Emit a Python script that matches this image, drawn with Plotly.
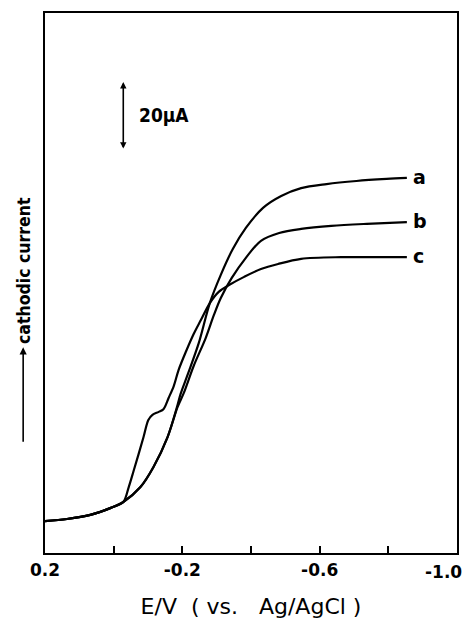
import plotly.graph_objects as go

# Potential (V vs Ag/AgCl) and cathodic current (µA, relative to baseline)
E_a = [0.200, 0.136, 0.068, 0.010, -0.028, -0.078, -0.116, -0.157, -0.186, -0.195,
       -0.216, -0.248, -0.280, -0.312, -0.347, -0.385, -0.435, -0.488, -0.546, -0.620,
       -0.707, -0.795, -0.854]
I_a = [0.0, 0.6, 1.8, 3.8, 5.6, 10.0, 15.9, 24.7, 34.1, 37.4,
       43.2, 52.4, 64.1, 72.4, 80.0, 86.2, 92.1, 95.6, 97.9, 99.1,
       100.0, 100.6, 100.9]

E_b = [0.200, 0.136, 0.068, 0.010, -0.028, -0.078, -0.116, -0.157, -0.186, -0.204,
       -0.233, -0.268, -0.292, -0.312, -0.344, -0.385, -0.429, -0.482, -0.546, -0.634,
       -0.737, -0.854]
I_b = [0.0, 0.6, 1.8, 3.8, 5.6, 10.0, 15.9, 24.7, 33.5, 37.6,
       45.6, 53.8, 60.6, 65.6, 71.5, 77.4, 82.4, 84.7, 85.9, 86.8,
       87.4, 87.9]

E_c = [0.200, 0.136, 0.068, 0.010, -0.028, -0.043, -0.058, -0.087, -0.101, -0.113,
       -0.131, -0.145, -0.160, -0.175, -0.189, -0.210, -0.233, -0.254, -0.280, -0.306,
       -0.336, -0.380, -0.429, -0.479, -0.546, -0.663, -0.780, -0.854]
I_c = [0.0, 0.6, 1.8, 3.8, 5.6, 9.7, 14.7, 24.7, 29.7, 31.2,
       32.1, 32.9, 36.2, 39.7, 44.4, 49.7, 55.0, 59.1, 64.1, 67.4,
       69.4, 71.8, 74.1, 75.6, 77.1, 77.6, 77.6, 77.6]

curve_names = ["a", "b", "c"]
tick_vals = [0.2, 0.0, -0.2, -0.4, -0.6, -0.8, -1.0]
tick_text = ["0.2", "", "-0.2", "", "-0.6", "", ""]
last_tick_label = "-1.0"   # drawn right-aligned so it stays inside the page

scale_E = -0.028          # position of the 20 µA scale bar
scale_bottom = 109.1
scale_top = 129.1
scale_label = "20μA"

FONT = "DejaVu Sans"
FONT_C = "DejaVu Sans Condensed, DejaVu Sans"

fig = go.Figure()
for name, xs, ys in zip(curve_names, [E_a, E_b, E_c], [I_a, I_b, I_c]):
    fig.add_trace(go.Scatter(
        x=xs, y=ys, mode="lines", name=name,
        line=dict(color="black", width=2.2, shape="spline", smoothing=0.9),
        showlegend=False, hoverinfo="skip",
    ))
    fig.add_annotation(
        x=xs[-1], y=ys[-1], xref="x", yref="y", text="<b>%s</b>" % name,
        showarrow=False, xanchor="left", yanchor="middle", xshift=4, yshift=1,
        font=dict(family=FONT, size=19, color="black"),
    )

# 20 µA scale bar (double-headed arrow)
fig.add_annotation(
    x=scale_E, y=scale_top, ax=scale_E, ay=scale_bottom,
    xref="x", yref="y", axref="x", ayref="y",
    text="", showarrow=True, arrowhead=2, arrowside="end+start",
    arrowsize=0.8, arrowwidth=1.6, arrowcolor="black",
)
fig.add_annotation(
    x=scale_E, y=(scale_top + scale_bottom) / 2, xref="x", yref="y",
    text="<b>%s</b>" % scale_label, showarrow=False, xanchor="left", yanchor="middle",
    xshift=14, yshift=1, font=dict(family=FONT_C, size=19, color="black"),
)

# y-axis label with arrow
fig.add_annotation(
    x=-0.051, y=0.524, xref="paper", yref="paper", text="<b>cathodic current</b>",
    textangle=-90, showarrow=False, xanchor="center", yanchor="middle",
    font=dict(family=FONT_C, size=17.5, color="black"),
)
fig.add_annotation(
    x=-0.053, y=0.381, ax=0, ay=96, xref="paper", yref="paper",
    text="", showarrow=True, arrowhead=2, arrowsize=0.9, arrowwidth=1.6,
    arrowcolor="black",
)

# last x tick label, right-aligned at the axis end
fig.add_annotation(
    x=tick_vals[-1], y=0, xref="x", yref="paper", text="<b>%s</b>" % last_tick_label,
    showarrow=False, xanchor="right", yanchor="top", xshift=7, yshift=-7,
    font=dict(family=FONT, size=17, color="black"),
)

fig.update_layout(
    width=462, height=622,
    margin=dict(l=37, r=13, t=5, b=77),
    paper_bgcolor="white", plot_bgcolor="white",
    font=dict(family=FONT, color="black"),
    xaxis=dict(
        range=[0.2, -1.0], showgrid=False, zeroline=False, automargin=False,
        showline=True, linecolor="black", linewidth=2.2, mirror=True,
        ticks="inside", ticklen=7, tickwidth=2, tickcolor="black",
        tickvals=tick_vals, ticktext=tick_text,
        tickfont=dict(family=FONT, size=17, color="black", weight="bold"),
        title=dict(text="E/V\u00a0\u00a0(\u00a0vs.\u00a0\u00a0\u00a0Ag/AgCl\u00a0)",
                   font=dict(family=FONT, size=22, color="black"), standoff=20),
    ),
    yaxis=dict(
        range=[-9.4, 149.4], showgrid=False, zeroline=False, automargin=False,
        showline=True, linecolor="black", linewidth=2.2, mirror=True,
        ticks="", showticklabels=False,
    ),
)

fig.write_html("out.html")
